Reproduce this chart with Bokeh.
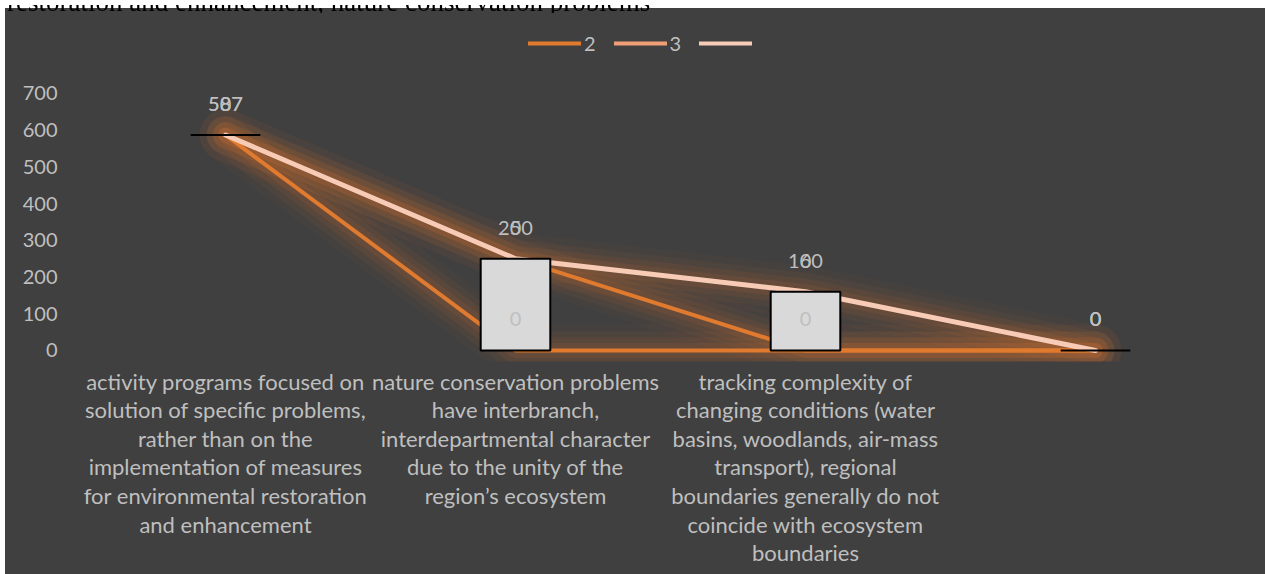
from bokeh.plotting import figure
from bokeh.models import Range1d, FixedTicker, Legend, LegendItem, ColumnDataSource, Div
from bokeh.layouts import column
from bokeh.embed import file_html
from bokeh.resources import INLINE
from bokeh.core.properties import value

# ---------------- data ----------------
title_text = "restoration and enhancement, nature conservation problems"
categories = [
    "activity programs focused on\nsolution of specific problems,\nrather than on the\nimplementation of measures\nfor environmental restoration\nand enhancement",
    "nature conservation problems\nhave interbranch,\ninterdepartmental character\ndue to the unity of the\nregion\u2019s ecosystem",
    "tracking complexity of\nchanging conditions (water\nbasins, woodlands, air-mass\ntransport), regional\nboundaries generally do not\ncoincide with ecosystem\nboundaries",
    "",
]
series_names = ["2", "3", " "]
series_2 = [587, 0, 0, 0]
series_3 = [587, 250, 0, 0]
series_4 = [587, 250, 160, 0]
extra_labels = ["0", "0", "0", "0"]
y_ticks = [0, 100, 200, 300, 400, 500, 600, 700]

# ---------------- style ----------------
BG = "#404040"
TXT = "#BFBFBF"
FONT = "Lato"
FS = "20px"
C2 = "#E07A2E"
C3 = "#F09E76"
C4 = "#F8CBB6"
GLOW = "#E5792E"

xs = [i + 1 for i in range(len(categories))]

p = figure(frame_width=1160, frame_height=353, output_backend="svg", toolbar_location=None,
           x_range=Range1d(0.5, len(categories) + 0.5), y_range=Range1d(-30, 931.5),
           min_border_left=75, min_border_right=25, min_border_top=0, min_border_bottom=213)
p.background_fill_color = None
p.background_fill_alpha = 0
p.border_fill_color = BG
p.outline_line_color = None
p.outline_line_alpha = 0
p.outline_line_width = 0
p.styles = {"background-color": BG}
p.xgrid.grid_line_color = None
p.ygrid.grid_line_color = None

# y axis
p.yaxis.ticker = FixedTicker(ticks=y_ticks)
p.yaxis.axis_line_color = None
p.yaxis.major_tick_line_color = None
p.yaxis.minor_tick_line_color = None
p.yaxis.major_tick_out = 0
p.yaxis.major_tick_in = 0
p.yaxis.major_label_standoff = 23
p.yaxis.major_label_text_color = TXT
p.yaxis.major_label_text_font = FONT
p.yaxis.major_label_text_font_size = FS

# x axis
p.xaxis.ticker = FixedTicker(ticks=xs)
p.xaxis.major_label_overrides = {x: c for x, c in zip(xs, categories)}
p.xaxis.axis_line_color = None
p.xaxis.major_tick_line_color = None
p.xaxis.minor_tick_line_color = None
p.xaxis.major_tick_out = 0
p.xaxis.major_tick_in = 0
p.xaxis.major_label_standoff = 6
p.xaxis.major_label_text_color = TXT
p.xaxis.major_label_text_font = FONT
p.xaxis.major_label_text_font_size = "22px"
p.xaxis.major_label_text_align = "center"
p.xaxis.major_label_text_line_height = 1.06

all_series = [series_2, series_3, series_4]

# glow
for s in all_series:
    for w, a in [(52, 0.035), (38, 0.055), (26, 0.075), (15, 0.1)]:
        p.line(xs, s, line_color=GLOW, line_width=w, line_alpha=a,
               line_cap="round", line_join="round")

# lines
r3 = p.line(xs, series_3, line_color=C2, line_width=4, line_cap="round", line_join="round")
r2 = p.line(xs, series_2, line_color=C2, line_width=4, line_cap="round", line_join="round")
r4 = p.line(xs, series_4, line_color=C4, line_width=5, line_cap="round", line_join="round")

# legend proxies (kept outside the visible ranges)
px_, py_ = [-10, -9], [-5000, -5000]
lg2 = p.line(px_, py_, line_color=C2, line_width=4, line_cap="round")
lg3 = p.line(px_, py_, line_color=C3, line_width=4, line_cap="round")
lg4 = p.line(px_, py_, line_color=C4, line_width=4, line_cap="round")

# up-down bars between first and last series
tops = [max(a, b) for a, b in zip(series_2, series_4)]
bots = [min(a, b) for a, b in zip(series_2, series_4)]
p.vbar(x=xs, top=tops, bottom=bots, width=0.24, fill_color="#D9D9D9",
       line_color="#000000", line_width=2)

# data labels
def add_labels(ys, texts):
    src = ColumnDataSource(dict(x=xs, y=ys, t=texts))
    p.text(x="x", y="y", text="t", source=src, y_offset=-31,
           text_align="center", text_baseline="middle",
           text_color=TXT, text_font=value(FONT), text_font_size=FS)

add_labels(series_4, [str(v) for v in series_4])
add_labels(series_2, [str(v) for v in series_2])
add_labels(series_4, extra_labels)

legend = Legend(items=[LegendItem(label=series_names[0], renderers=[lg2]),
                       LegendItem(label=series_names[1], renderers=[lg3]),
                       LegendItem(label=series_names[2], renderers=[lg4])],
                orientation="horizontal", location=(448, 306),
                glyph_width=53, glyph_height=20, label_standoff=3, spacing=18,
                padding=0, margin=0, background_fill_alpha=0, border_line_alpha=0,
                label_text_color=TXT, label_text_font=FONT, label_text_font_size=FS,
                label_width=10)
p.add_layout(legend, "center")

title_div = Div(text='<div style="position:relative; top:-16px; left:0px; '
                     'font-family:\'Liberation Serif\'; font-size:27px; line-height:27px; '
                     'color:#000; white-space:nowrap;">' + title_text + '</div>',
                width=800, height=8,
                styles={"position": "fixed", "top": "0px", "left": "2px",
                        "overflow": "hidden", "height": "8px"})

layout = column(p, title_div, spacing=0, margin=(8, 0, 0, 5))
open("out.html", "w").write(file_html(layout, INLINE))
